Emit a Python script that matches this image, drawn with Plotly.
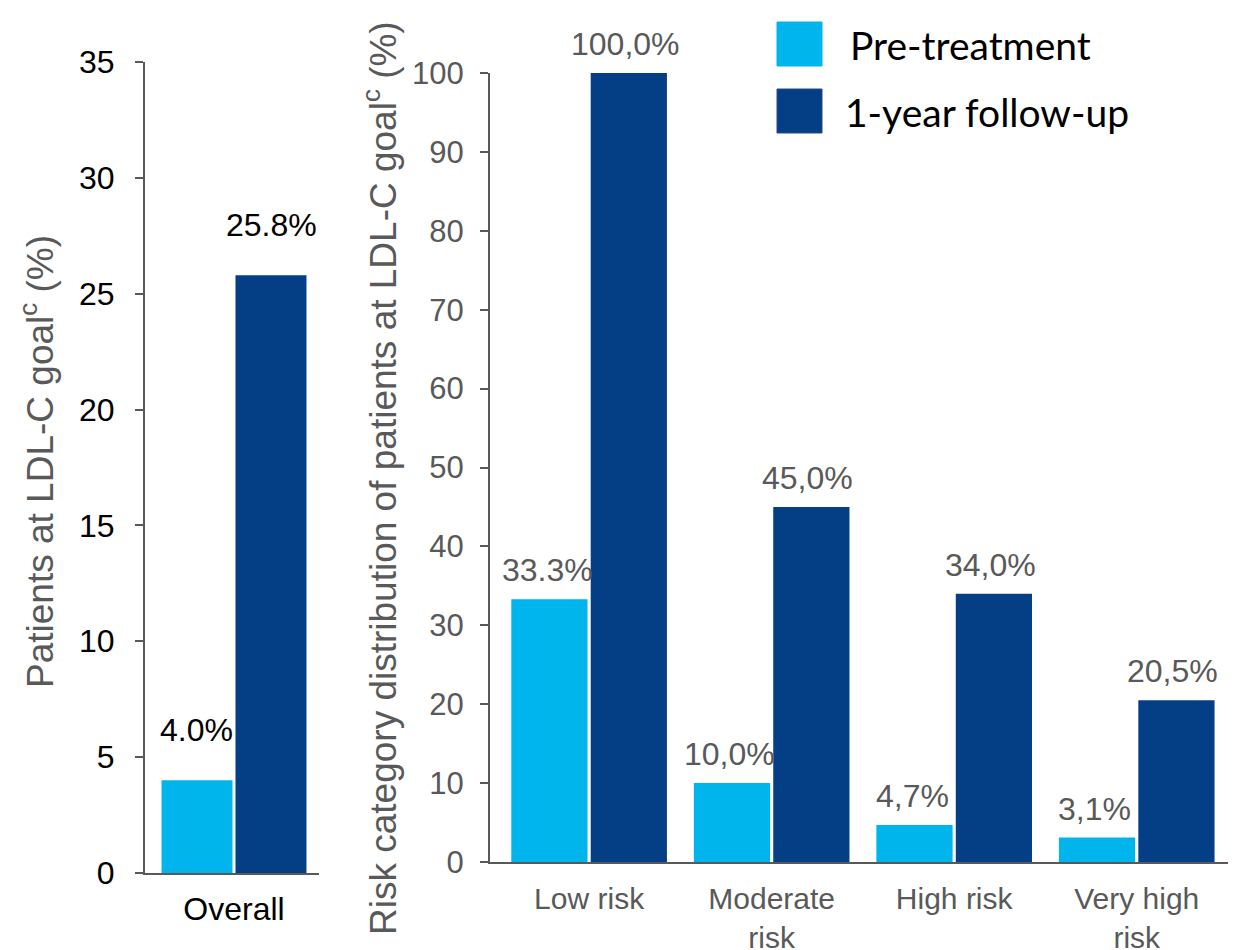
import plotly.graph_objects as go

# ---- data ----
overall_cat = ["Overall"]
overall_pre = [4.0]
overall_post = [25.8]

risk_cats = ["Low risk", "Moderate<br>risk", "High risk", "Very high<br>risk"]
risk_pre = [33.3, 10.0, 4.7, 3.1]
risk_post = [100.0, 45.0, 34.0, 20.5]
# decimal separators used in the printed value labels
risk_pre_sep = [".", ",", ",", ","]
risk_post_sep = [",", ",", ",", ","]

series_names = ["Pre-treatment", "1-year follow-up"]

# ---- style ----
LIGHT = "#00B5EB"
DARK = "#043F86"
GREY = "#595959"
FONT = "Liberation Sans, Arial, sans-serif"
W, H = 1234, 950


def px_x(p):
    return p / W


def px_y(p):
    return 1 - p / H


def fmt(v, sep):
    return f"{v:.1f}".replace(".", sep) + "%"


fig = go.Figure()

fig.add_trace(go.Bar(x=overall_cat, y=overall_pre, name=series_names[0],
                     marker=dict(color=LIGHT, line=dict(width=0)),
                     xaxis="x", yaxis="y", showlegend=False))
fig.add_trace(go.Bar(x=overall_cat, y=overall_post, name=series_names[1],
                     marker=dict(color=DARK, line=dict(width=0)),
                     xaxis="x", yaxis="y", showlegend=False))
fig.add_trace(go.Bar(x=risk_cats, y=risk_pre, name=series_names[0],
                     marker=dict(color=LIGHT, line=dict(width=0)),
                     xaxis="x2", yaxis="y2", showlegend=False))
fig.add_trace(go.Bar(x=risk_cats, y=risk_post, name=series_names[1],
                     marker=dict(color=DARK, line=dict(width=0)),
                     xaxis="x2", yaxis="y2", showlegend=False))

annotations = []
# value labels, overall panel
for c, v in zip(overall_cat, overall_pre):
    annotations.append(dict(x=c, y=v, xref="x", yref="y", text=fmt(v, "."),
                            showarrow=False, xshift=-38, yshift=50, yanchor="middle",
                            font=dict(family=FONT, size=32, color="#000000")))
for c, v in zip(overall_cat, overall_post):
    annotations.append(dict(x=c, y=v, xref="x", yref="y", text=fmt(v, "."),
                            showarrow=False, xshift=37, yshift=50, yanchor="middle",
                            font=dict(family=FONT, size=32, color="#000000")))
# value labels, risk panel
for c, v, s in zip(risk_cats, risk_pre, risk_pre_sep):
    annotations.append(dict(x=c, y=v, xref="x2", yref="y2", text=fmt(v, s),
                            showarrow=False, xshift=-42, yshift=29, yanchor="middle",
                            font=dict(family=FONT, size=32, color=GREY)))
for c, v, s in zip(risk_cats, risk_post, risk_post_sep):
    annotations.append(dict(x=c, y=v, xref="x2", yref="y2", text=fmt(v, s),
                            showarrow=False, xshift=36, yshift=29, yanchor="middle",
                            font=dict(family=FONT, size=32, color=GREY)))

# axis titles
annotations.append(dict(x=px_x(37), y=px_y(462), xref="paper", yref="paper",
                        text="Patients at LDL-C goal<sup>c</sup> (%)", textangle=-90,
                        showarrow=False, xanchor="center", yanchor="middle",
                        font=dict(family=FONT, size=37, color=GREY)))
annotations.append(dict(x=px_x(380), y=px_y(478), xref="paper", yref="paper",
                        text="Risk category distribution of patients at LDL-C goal<sup>c</sup> (%)",
                        textangle=-90, showarrow=False, xanchor="center", yanchor="middle",
                        font=dict(family=FONT, size=37, color=GREY)))

# legend
shapes = []
legend_rows = [(series_names[0], LIGHT, 22, 66, 848), (series_names[1], DARK, 89, 133, 843)]
for name, col, y0, y1, tx in legend_rows:
    shapes.append(dict(type="rect", xref="paper", yref="paper",
                       x0=px_x(777), x1=px_x(822), y0=px_y(y1), y1=px_y(y0),
                       fillcolor=col, line=dict(color=col if col == LIGHT else "#2B4C82", width=1)))
    annotations.append(dict(x=px_x(tx), y=px_y((y0 + y1) / 2 + 1), xref="paper", yref="paper",
                            text=name, showarrow=False, xanchor="left", yanchor="middle",
                            font=dict(family="Lato, Noto Sans, sans-serif", size=39, color="#000000")))

axis_line = dict(showline=True, linecolor=GREY, linewidth=2, automargin=False)

fig.update_layout(
    width=W, height=H,
    margin=dict(l=0, r=0, t=0, b=0, autoexpand=False),
    paper_bgcolor="white", plot_bgcolor="white",
    barmode="group", bargap=0.13, bargroupgap=0.04,
    showlegend=False,
    xaxis=dict(domain=[px_x(145), px_x(319)], range=[-0.5235, 0.5], anchor="y",
               showgrid=False, zeroline=False, ticks="", ticklabelstandoff=7,
               tickfont=dict(family=FONT, size=32, color="#000000"), **axis_line),
    yaxis=dict(domain=[px_y(873), px_y(62)], range=[0, 35], anchor="x",
               dtick=5, tick0=0, showgrid=False, zeroline=False,
               ticks="outside", ticklen=8, tickwidth=2, tickcolor=GREY,
               ticklabelstandoff=14,
               tickfont=dict(family=FONT, size=32, color="#000000"), **axis_line),
    xaxis2=dict(domain=[px_x(490), px_x(1228)], range=[-0.543, 3.5], anchor="y2",
                showgrid=False, zeroline=False, ticks="", ticklabelstandoff=9,
                tickfont=dict(family=FONT, size=30, color=GREY), **axis_line),
    yaxis2=dict(domain=[px_y(862), px_y(73)], range=[0, 100], anchor="x2",
                dtick=10, tick0=0, showgrid=False, zeroline=False,
                ticks="outside", ticklen=8, tickwidth=2, tickcolor=GREY,
                ticklabelstandoff=10,
                tickfont=dict(family=FONT, size=31, color=GREY), **axis_line),
    annotations=annotations,
    shapes=shapes,
)

fig.write_html("out.html")
